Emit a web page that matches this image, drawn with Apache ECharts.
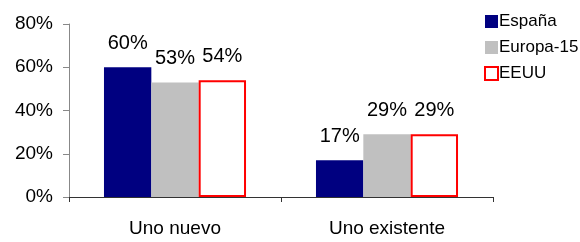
<!DOCTYPE html>
<html>
<head>
<meta charset="utf-8">
<script src="https://cdn.jsdelivr.net/npm/echarts@6/dist/echarts.min.js"></script>
<style>
  html, body { margin: 0; padding: 0; background: #fff; }
  #chart { width: 580px; height: 242px; }
</style>
</head>
<body>
<div id="chart"></div>
<script>
// datos del grafico
var categorias = ['Uno nuevo', 'Uno existente'];
var espana = [60, 17];
var europa15 = [53, 29];
var eeuu = [54, 29];
var ticksY = [0, 20, 40, 60, 80];

var chart = echarts.init(document.getElementById('chart'));
var fuente = '"Liberation Sans", Arial, sans-serif';

var etiqueta = {
  show: true,
  position: 'top',
  distance: 14,
  formatter: '{c}%',
  color: '#000',
  fontSize: 20,
  fontFamily: fuente
};

var option = {
  animation: false,
  grid: {
    left: 69,
    top: 24,
    right: 87,
    bottom: 45
  },
  legend: {
    orient: 'vertical',
    left: 479,
    top: 8,
    itemWidth: 13,
    itemHeight: 13,
    itemGap: 9,
    icon: 'rect',
    textStyle: {
      fontSize: 17,
      fontFamily: fuente,
      color: '#000',
      padding: [0, 0, 0, -4]
    },
    data: ['España', 'Europa-15', 'EEUU']
  },
  xAxis: {
    type: 'category',
    data: categorias,
    axisLine: { lineStyle: { color: '#333', width: 1 } },
    axisTick: { show: true, length: 5, lineStyle: { color: '#333' } },
    axisLabel: {
      color: '#000',
      fontSize: 19,
      fontFamily: fuente,
      margin: 22
    }
  },
  yAxis: {
    type: 'value',
    min: ticksY[0],
    max: ticksY[ticksY.length - 1],
    interval: 20,
    splitLine: { show: false },
    axisLine: { show: true, lineStyle: { color: '#888' } },
    axisTick: { show: true, length: 6, lineStyle: { color: '#888' } },
    axisLabel: {
      color: '#000',
      fontSize: 19,
      fontFamily: fuente,
      margin: 16,
      formatter: '{value}%'
    }
  },
  series: [
    {
      name: 'España',
      type: 'bar',
      data: espana,
      barGap: '0%',
      barCategoryGap: '33%',
      itemStyle: { color: '#000080' },
      label: etiqueta
    },
    {
      name: 'Europa-15',
      type: 'bar',
      data: europa15,
      itemStyle: { color: '#c0c0c0' },
      label: etiqueta
    },
    {
      name: 'EEUU',
      type: 'bar',
      data: eeuu,
      itemStyle: { color: '#ffffff', borderColor: '#ff0000', borderWidth: 2 },
      label: etiqueta
    }
  ]
};

chart.setOption(option);
</script>
</body>
</html>
